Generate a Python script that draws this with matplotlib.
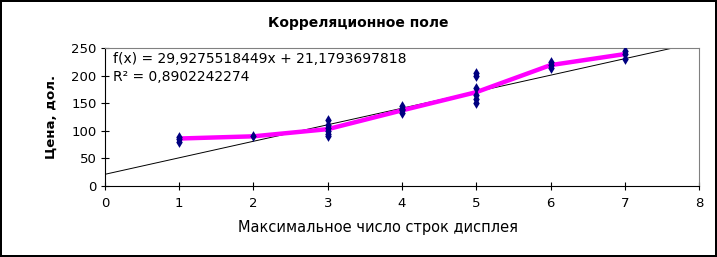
import numpy as np
import matplotlib
matplotlib.use("Agg")
import matplotlib.pyplot as plt

# scatter data: display rows vs price
rows = [1, 1, 1, 2, 3, 3, 3, 3, 3, 3, 4, 4, 4, 4, 5, 5, 5, 5, 5, 5, 6, 6, 6, 7, 7, 7]
price = [80, 85, 88, 90, 90, 95, 100, 105, 110, 120, 132, 137, 140, 145,
         150, 158, 165, 178, 200, 205, 213, 220, 225, 230, 240, 245]

# mean price for each number of rows (pink line)
mean_x = [1, 2, 3, 4, 5, 6, 7]
mean_y = [86, 90, 103, 137, 170, 219, 239]

# trend line coefficients
slope = 29.9275518449
intercept = 21.1793697818
r2 = 0.8902242274

plt.rcParams['font.family'] = ['DejaVu Sans']

fig = plt.figure(figsize=(7.17, 2.57), dpi=100)
fig.patch.set_edgecolor("black")
fig.patch.set_linewidth(1.5)
ax = fig.add_axes([0.1464, 0.2763, 0.8286, 0.5369])

tx = np.array([0, 8])
ax.plot(tx, slope * tx + intercept, color="black", linewidth=0.7, zorder=2)
ax.plot(mean_x, mean_y, color="#ff00ff", linewidth=3.2, zorder=3)
ax.scatter(rows, price, marker="d", s=30, color="#000080", zorder=4, linewidths=0)

ax.set_xlim(0, 8)
ax.set_ylim(0, 250)
ax.set_xticks(range(0, 9))
ax.set_yticks(range(0, 251, 50))
ax.tick_params(direction="inout", length=6, labelsize=9.5, width=0.8)
ax.tick_params(axis="x", pad=5)
ax.tick_params(axis="y", pad=3)
for s in ["top", "right"]:
    ax.spines[s].set_color("#808080")
ax.spines["left"].set_color("black")
ax.spines["bottom"].set_color("black")

ax.text(0.013, 0.97, f"f(x) = {slope:.10f}x + {intercept:.10f}".replace(".", ","),
        transform=ax.transAxes, fontsize=10, va="top")
ax.text(0.013, 0.84, f"R² = {r2:.10f}".replace(".", ","),
        transform=ax.transAxes, fontsize=10, va="top")

fig.text(0.5, 0.91, "Корреляционное поле", ha="center", va="center",
         fontsize=10, fontweight="bold")
ax.set_ylabel("Цена, дол.", fontsize=9.5, fontweight="bold", labelpad=10)
ax.set_xlabel("Максимальное число строк дисплея", fontsize=10.5)
ax.xaxis.set_label_coords(0.46, -0.25)

fig.savefig("out.png", dpi=100, edgecolor=fig.get_edgecolor())
